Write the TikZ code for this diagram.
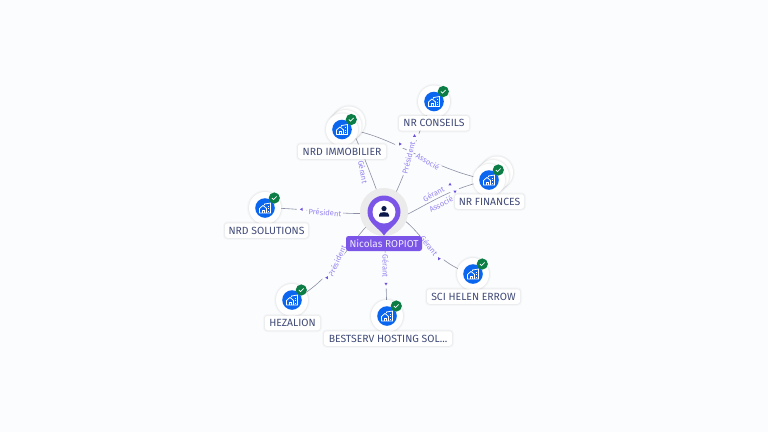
\documentclass[tikz,border=0pt]{standalone}
\usepackage{fontspec}
\setmainfont{Fira Sans}
\usetikzlibrary{shapes.geometric}
\definecolor{bgc}{HTML}{FBFCFE}
\definecolor{edgec}{HTML}{8B90A4}
\definecolor{relc}{HTML}{9584F0}
\definecolor{tipc}{HTML}{6D4FE0}
\definecolor{pinc}{HTML}{7B55E8}
\definecolor{bluec}{HTML}{0A66EE}
\definecolor{greenc}{HTML}{0B7D45}
\definecolor{textc}{HTML}{414B78}
\definecolor{navyc}{HTML}{0B1A4A}
\tikzset{
  x=1pt,y=-1pt,
  softshadow/.style={preaction={draw=black,opacity=.025,line width=4pt},preaction={draw=black,opacity=.035,line width=2pt}},
  edgeline/.style={draw=edgec,line width=.6pt},
  rellabel/.style={fill=bgc,text=relc,font=\fontsize{7.6}{8}\selectfont,inner xsep=1.5pt,inner ysep=.5pt},
  tipmark/.style={regular polygon,regular polygon sides=3,fill=tipc,inner sep=0pt,minimum size=3.6pt},
  company/.style={circle,fill=white,softshadow,minimum size=32pt,inner sep=0pt},
  backdisc/.style={circle,fill=white,softshadow,minimum size=32pt,inner sep=0pt},
  namebox/.style={fill=white,softshadow,rounded corners=2.5pt,text=textc,
    font=\fontsize{10.4}{11}\selectfont,minimum height=14.5pt,inner sep=0pt},
  companyicon/.pic={
    \fill[bluec] (0,0) circle[radius=9.8];
    \draw[white,line width=.75pt,line join=round] (-5.5,5) -- (-5.5,.5) -- (-2,-2.6) -- (1.6,.5) -- (1.6,5) -- cycle;
    \draw[white,line width=.75pt] (-3,5) -- (-3,2) -- (-.8,2) -- (-.8,5);
    \draw[white,line width=.75pt] (-.5,-2.8) -- (-.5,-4) -- (5.5,-5) -- (5.5,5) -- (1.6,5);
    \foreach \wy in {-2.4,.2,2.8}{\fill[white] (2.8,\wy) rectangle (4.2,\wy+1);}
    \fill[greenc] (9.3,-10) circle[radius=5.6];
    \draw[white,line width=.75pt] (6.9,-10) -- (8.6,-8.4) -- (11.6,-11.5);
  }
}
\newcommand\arrowtip[4]{\fill[bgc] (#2,#3) circle[radius=5];\node[tipmark,rotate=#4] (#1) at (#2,#3) {};}
\begin{document}
\begin{tikzpicture}
\useasboundingbox (0,0) rectangle (768,432);
\fill[bgc] (0,0) rectangle (768,432);
% anchors of the connectors
\coordinate (pinc) at (384,212);
\coordinate (pinl) at (384,224);
\coordinate (cImm) at (342,129.5);
\coordinate (cImb) at (349,124);
\coordinate (cCon) at (434,101.5);
\coordinate (cFin) at (489,180);
\coordinate (cSol) at (265,208);
\coordinate (cHez) at (292,300);
\coordinate (cBes) at (387,316);
\coordinate (cSci) at (473,274);
% connectors
\draw[edgeline] (pinc) .. controls (378,192) and (360,145) .. (cImb);
\draw[edgeline] (pinc) .. controls (403,190) and (416,130) .. (cCon);
\draw[edgeline] (cImm) .. controls (385,130) and (430,170) .. (cFin);
\draw[edgeline] (pinl) .. controls (415,215) and (440,190) .. (cFin);
\draw[edgeline] (pinc) .. controls (345,217) and (310,208) .. (cSol);
\draw[edgeline] (pinc) .. controls (358,224) and (335,282) .. (cHez);
\draw[edgeline] (pinc) -- (cBes);
\draw[edgeline] (pinc) .. controls (418,215) and (425,262) .. (cSci);
% connector labels
\node[rellabel,rotate=-80] (l1) at (363,172) {Gérant};
\node[rellabel,rotate=-31] (l3) at (428,161.5) {Associé};
\node[rellabel,rotate=76] (l2) at (408.5,158) {Président};
\node[rellabel,rotate=28] (l4) at (433.5,194) {Gérant};
\node[rellabel,rotate=28] (l5) at (441,204) {Associé};
\node[rellabel,rotate=-5] (l6) at (325,212.5) {Président};
\node[rellabel,rotate=65] (l7) at (337,261) {Président};
\node[rellabel,rotate=-90] (l8) at (385.5,266) {Gérant};
\node[rellabel,rotate=-52] (l9) at (429,245.5) {Gérant};
\arrowtip{t2}{414.5}{136}{0}
\arrowtip{t3}{400}{144}{30}
\arrowtip{t4}{450}{184.5}{0}
\arrowtip{t5}{455}{191.5}{180}
\arrowtip{t6}{301.7}{209.3}{90}
\arrowtip{t7}{327}{277.7}{90}
\arrowtip{t8}{386}{283.7}{180}
\arrowtip{t9}{439}{258.7}{150}
% centre marker
\fill[black!8] (pinc) circle[radius=24];
\fill[pinc] (384,235.5) .. controls (379,228) and (367.5,223) .. (367.5,212) arc[start angle=180,end angle=360,radius=16.5] .. controls (400.5,223) and (389,228) .. (384,235.5) -- cycle;
\node[circle,fill=white,minimum size=23pt,inner sep=0pt] (pin) at (pinc) {};
\fill[navyc] (384,208.6) circle[radius=2.6];
\fill[navyc] (379,216.6) -- (379,215) .. controls (379,212.6) and (381,212.2) .. (384,212.2) .. controls (387,212.2) and (389,212.6) .. (389,215) -- (389,216.6) -- cycle;
\node[fill=pinc,text=white!88!pinc,rounded corners=2.5pt,minimum width=76pt,minimum height=15pt,inner sep=0pt,font=\fontsize{10}{11}\selectfont] (pinlabel) at (384,243.5) {Nicolas ROPIOT};
% companies
\node[backdisc] (immb2) at (349,122.5) {};
\node[backdisc] (immb1) at (345.5,126) {};
\node[company] (imm) at (cImm) {};
\pic at (imm) {companyicon};
\node[company] (con) at (cCon) {};
\pic at (con) {companyicon};
\node[backdisc] (finb2) at (497,172.5) {};
\node[backdisc] (finb1) at (493,176) {};
\node[company] (fin) at (cFin) {};
\pic at (fin) {companyicon};
\node[company] (sol) at (cSol) {};
\pic at (sol) {companyicon};
\node[company] (hez) at (cHez) {};
\pic at (hez) {companyicon};
\node[company] (bes) at (cBes) {};
\pic at (bes) {companyicon};
\node[company] (sci) at (cSci) {};
\pic at (sci) {companyicon};
% names
\node[namebox,minimum width=88pt] (nimm) at (342,151.5) {NRD IMMOBILIER};
\node[namebox,minimum width=70pt] (ncon) at (434,123.3) {NR CONSEILS};
\node[namebox,minimum width=69pt] (nfin) at (489.5,201.5) {NR FINANCES};
\node[namebox,minimum width=83pt] (nsol) at (266.5,230.5) {NRD SOLUTIONS};
\node[namebox,minimum width=55pt] (nhez) at (292.5,323) {HEZALION};
\node[namebox,minimum width=128pt] (nbes) at (388,338.5) {BESTSERV HOSTING SOL...};
\node[namebox,minimum width=93pt] (nsci) at (473.5,296.5) {SCI HELEN ERROW};
\end{tikzpicture}
\end{document}
